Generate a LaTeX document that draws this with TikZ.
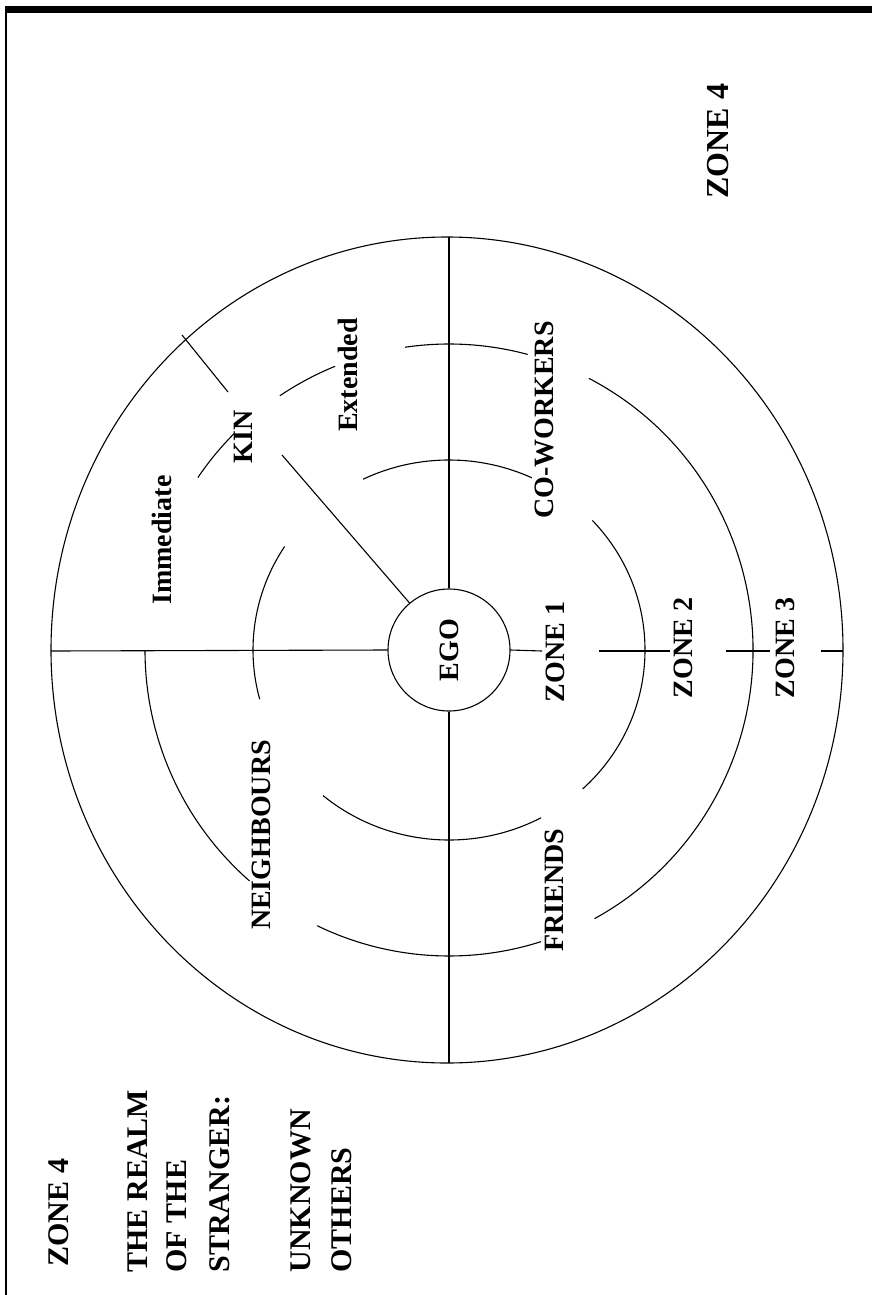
\documentclass[tikz,border=0pt]{standalone}
\usepackage{fontspec}
\setmainfont{Liberation Serif}
\newcommand{\earc}[4]{\draw ([shift={(#3:#1 and #2)}]C) arc[start angle=#3, end angle=#4, x radius=#1, y radius=#2];}
\begin{document}
\begin{tikzpicture}[x=1pt,y=-1pt, line width=1.1pt,
  lab/.style={font=\fontsize{28}{30}\selectfont\bfseries, rotate=90, inner sep=0pt},
  zlab/.style={font=\fontsize{32}{34}\selectfont\bfseries, rotate=90, inner sep=0pt},
  side/.style={font=\fontsize{30}{32}\selectfont\bfseries, rotate=90, anchor=base west, inner sep=0pt}]
\useasboundingbox (0,0) rectangle (872,1295);
% frame
\fill (5,6) rectangle (872,13);
\draw[line width=1.5pt] (6,10) -- (6,1295);
\coordinate (C) at (449,650);
% outer ring
\draw ([xshift=-2pt]C) ellipse [x radius=396, y radius=413];
% EGO
\node[draw, circle, minimum size=122pt, inner sep=0pt] (ego) at (C) {};
\node[lab] (egot) at (C) {EGO};
% axes
\coordinate (top) at (449,237);
\coordinate (bot) at (449,1063);
\coordinate (lft) at (51,651);
\draw (top) -- (ego.north);
\draw (ego.south) -- (bot);
\draw (lft) -- (ego.west);
\coordinate (r1a) at (542,651); \coordinate (r1b) at (599,651);
\coordinate (r2a) at (670,651); \coordinate (r2b) at (726,651);
\coordinate (r3a) at (770,651); \coordinate (r3b) at (821,651);
\coordinate (r4) at (843,651);
\draw (ego.east) -- (r1a);
\draw (r1b) -- (r2a);
\draw (r2b) -- (r3a);
\draw (r3b) -- (r4);
% zone 1 boundary ring
\earc{196}{190}{-90}{-65}
\earc{196}{190}{-43}{47}
\earc{196}{190}{62}{130}
\earc{196}{190}{165}{213}
\earc{196}{190}{244}{260}
\earc{196}{190}{260}{270}
% zone 2 boundary ring
\earc{304}{306}{-90}{-75}
\earc{304}{306}{-62.6}{61.4}
\earc{304}{306}{72.4}{115.7}
\earc{304}{306}{131}{180}
\earc{304}{306}{214.3}{225}
\earc{304}{306}{236.2}{248}
\earc{304}{306}{261.7}{270}
% kin radial line
\coordinate (kinout) at (182,335);
\coordinate (kinouti) at (228,392);
\coordinate (kinin) at (282,455);
\draw (kinout) -- (kinouti);
\draw (kinin) -- (ego.130);
% labels
\node[lab] (z1) at (555,652) {ZONE 1};
\node[lab] (z2) at (683,648) {ZONE 2};
\node[lab] (z3) at (785,648) {ZONE 3};
\node[lab] (cow) at (544,420) {CO-WORKERS};
\node[lab] (fri) at (554,890) {FRIENDS};
\node[lab] (nei) at (261,835) {NEIGHBOURS};
\node[lab] (kin) at (243,437) {KIN};
\node[lab] (ext) at (348,375) {Extended};
\node[lab] (imm) at (162,540) {Immediate};
\node[zlab] (z4r) at (718,141) {ZONE 4};
% left column
\node[side] (z4l) at (68,1267) {ZONE 4};
\node[side] (t1) at (147,1273) {THE REALM};
\node[side] (t2) at (186,1273) {OF THE};
\node[side] (t3) at (229,1273) {STRANGER:};
\node[side] (t4) at (310,1273) {UNKNOWN};
\node[side] (t5) at (351,1273) {OTHERS};
\end{tikzpicture}
\end{document}
